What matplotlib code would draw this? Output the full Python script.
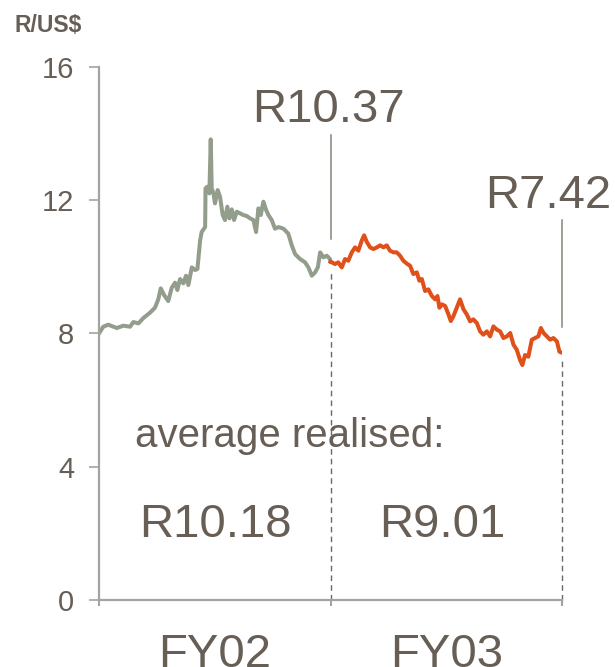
import matplotlib
matplotlib.use("Agg")
import matplotlib.pyplot as plt

plt.rcParams['font.family'] = ['Liberation Sans', 'DejaVu Sans']

# months since start of FY02, rand per US dollar
fy02_months = [0.00, 0.22, 0.48, 0.92, 1.26, 1.61, 1.78, 2.04, 2.30, 2.64, 2.90, 3.07, 3.20,
               3.37, 3.59, 3.77, 3.94, 4.06, 4.20, 4.37, 4.51, 4.63, 4.81, 4.98, 5.10, 5.24,
               5.32, 5.50, 5.52, 5.61, 5.72, 5.79, 5.84, 5.93, 6.01, 6.15, 6.27, 6.41, 6.53,
               6.65, 6.76, 6.88, 7.00, 7.14, 7.31, 7.48, 7.66, 7.83, 8.00, 8.14, 8.26, 8.38,
               8.52, 8.66, 8.78, 8.95, 9.12, 9.30, 9.56, 9.81, 9.99, 10.16, 10.42, 10.68,
               10.85, 11.03, 11.20, 11.34, 11.46, 11.63, 11.80, 11.97, 12.00]
fy02_rate = [8.00, 8.20, 8.26, 8.16, 8.23, 8.20, 8.34, 8.30, 8.46, 8.62, 8.77, 9.02, 9.35,
             9.15, 8.97, 9.37, 9.52, 9.30, 9.63, 9.50, 9.73, 9.45, 9.98, 9.90, 9.93, 10.79,
             11.04, 11.19, 12.35, 12.40, 12.20, 13.82, 12.35, 12.20, 11.90, 12.30, 12.10,
             11.55, 11.40, 11.80, 11.45, 11.72, 11.40, 11.65, 11.60, 11.55, 11.52, 11.45,
             11.40, 11.04, 11.75, 11.55, 11.95, 11.70, 11.55, 11.40, 11.14, 11.19, 11.14,
             10.99, 10.64, 10.38, 10.23, 10.13, 9.98, 9.73, 9.83, 9.98, 10.43, 10.28,
             10.33, 10.23, 10.15]

fy03_months = [12.00, 12.23, 12.40, 12.58, 12.75, 12.92, 13.10, 13.27, 13.44, 13.62, 13.74,
               13.88, 14.05, 14.22, 14.40, 14.57, 14.74, 14.91, 15.08, 15.26, 15.43, 15.60,
               15.77, 15.98, 16.12, 16.29, 16.47, 16.60, 16.73, 16.90, 17.07, 17.25, 17.42,
               17.54, 17.64, 17.77, 17.94, 18.11, 18.23, 18.37, 18.54, 18.71, 18.89, 19.06,
               19.23, 19.40, 19.58, 19.75, 19.92, 20.10, 20.27, 20.44, 20.62, 20.79, 20.96,
               21.14, 21.31, 21.48, 21.65, 21.82, 21.94, 22.08, 22.25, 22.43, 22.60, 22.77,
               22.90, 23.04, 23.21, 23.38, 23.55, 23.73, 23.86, 24.00]
fy03_rate = [10.15, 10.08, 10.13, 9.98, 10.23, 10.18, 10.43, 10.58, 10.48, 10.79, 10.94,
             10.74, 10.58, 10.53, 10.58, 10.64, 10.58, 10.64, 10.48, 10.43, 10.43, 10.33,
             10.18, 10.08, 10.03, 9.78, 9.83, 9.58, 9.63, 9.27, 9.32, 9.12, 9.02, 9.12,
             8.77, 8.87, 8.82, 8.57, 8.37, 8.52, 8.77, 9.02, 8.72, 8.57, 8.36, 8.42, 8.31,
             8.06, 7.96, 8.06, 7.91, 8.21, 8.11, 8.06, 7.86, 7.91, 8.01, 7.66, 7.51, 7.20,
             7.05, 7.35, 7.30, 7.81, 7.86, 7.91, 8.16, 8.01, 7.91, 7.81, 7.86, 7.76, 7.45,
             7.42]

year_labels = ["FY02", "FY03"]
spot_labels = ["R10.37", "R7.42"]
avg_labels = ["R10.18", "R9.01"]

txt = "#675e56"
axis_grey = "#a3a3a3"

fig = plt.figure(figsize=(6.15, 6.67), dpi=100)
ax = fig.add_axes([0.161, 0.1004, 0.753, 0.7996])

ax.plot(fy02_months, fy02_rate, color="#939d8c", lw=2.9, solid_joinstyle="round")
ax.plot(fy03_months, fy03_rate, color="#e0501a", lw=2.9, solid_joinstyle="round")

# year-end markers
ax.plot([12, 12], [10.84, 13.95], color="#8a827b", lw=1.1, clip_on=False)
ax.plot([12, 12], [0, 9.9], color="#6f6860", lw=1.0, ls=(0, (4, 3)), clip_on=False)
ax.plot([24, 24], [8.2, 11.4], color="#8a827b", lw=1.1, clip_on=False)
ax.plot([24, 24], [0, 7.2], color="#6f6860", lw=1.0, ls=(0, (4, 3)), clip_on=False)

ax.text(11.9, 14.35, spot_labels[0], fontsize=34, color=txt, ha="center", va="baseline")
ax.text(23.3, 11.75, spot_labels[1], fontsize=34, color=txt, ha="center", va="baseline",
        clip_on=False)
ax.text(1.87, 4.6, "average realised:", fontsize=29, color=txt, ha="left", va="baseline")
ax.text(6.05, 1.9, avg_labels[0], fontsize=34, color=txt, ha="center", va="baseline")
ax.text(17.8, 1.9, avg_labels[1], fontsize=34, color=txt, ha="center", va="baseline")

ax.set_xlim(0, 24)
ax.set_ylim(0, 16)
ax.set_yticks([0, 4, 8, 12, 16])
ax.set_xticks([0, 12, 24])
ax.set_xticklabels([])
ax.set_xticks([6, 18], minor=True)
ax.set_xticklabels(year_labels, minor=True)
ax.tick_params(axis="x", which="minor", length=0, pad=24, labelsize=34, labelcolor=txt)
ax.tick_params(axis="x", which="major", length=4, width=1.5, color=axis_grey, direction="out")
ax.tick_params(axis="y", length=7, width=1.2, color=axis_grey, pad=11,
               labelsize=21, labelcolor=txt)

for side in ("top", "right"):
    ax.spines[side].set_visible(False)
for side in ("left", "bottom"):
    ax.spines[side].set_color(axis_grey)
    ax.spines[side].set_linewidth(1.6)

fig.text(0.024, 0.952, "R/US$", fontsize=16.5, fontweight="bold", color=txt,
         ha="left", va="baseline")

fig.savefig("out.png", dpi=100)
